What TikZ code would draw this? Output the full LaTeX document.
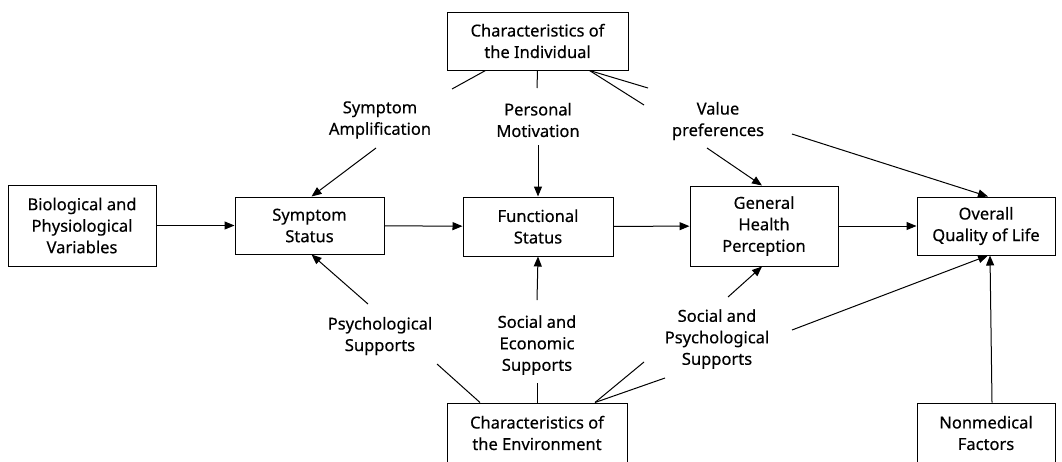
\documentclass[tikz,border=0pt]{standalone}
\usepackage{fontspec}
\setmainfont{Noto Sans}[FakeBold=0.4]
\usetikzlibrary{arrows.meta}
\begin{document}
\begin{tikzpicture}[x=1pt,y=-1pt,
  every node/.style={font=\fontsize{16.5}{21.5}\selectfont, align=center, inner sep=0pt},
  box/.style={draw, line width=1pt, rectangle},
  lbl/.style={},
  link/.style={line width=1pt},
  arr/.style={line width=1pt, -{Triangle[length=10pt,width=8pt]}}]
\useasboundingbox (0,0) rectangle (1062,461);
\fill[white] (0,0) rectangle (1062,461);
\begin{scope}
\clip (0,0) rectangle (1062,461);
% main row of boxes
\node[box, minimum width=148pt, minimum height=81pt] (bio) at (82,225.5) {Biological and\\Physiological\\Variables};
\node[box, minimum width=149pt, minimum height=57pt] (sym) at (309.5,225.5) {Symptom\\Status};
\node[box, minimum width=150pt, minimum height=59pt] (fun) at (538,226.5) {Functional\\Status};
\node[box, minimum width=148pt, minimum height=80pt] (gen) at (764,226) {General\\Health\\Perception};
\node[box, minimum width=138pt, minimum height=58pt] (ovr) at (986,226) {Overall\\Quality of Life};
% individual and environment
\node[box, minimum width=181pt, minimum height=58pt] (ind) at (537.5,41) {Characteristics of\\the Individual};
\node[box, minimum width=180pt, minimum height=60pt] (env) at (537,433) {Characteristics of\\the Environment};
\node[box, minimum width=138pt, minimum height=60pt] (non) at (986,433) {Nonmedical\\Factors};
% pathway labels
\node[lbl] (amp) at (380,120) {Symptom\\Amplification};
\node[lbl] (mot) at (538,120) {Personal\\Motivation};
\node[lbl] (val) at (718,121) {Value\\preferences};
\node[lbl] (psy) at (380,336) {Psychological\\Supports};
\node[lbl] (soe) at (537,345) {Social and\\Economic\\Supports};
\node[lbl] (sps) at (717,339) {Social and\\Psychological\\Supports};
% free ends near the labels
\coordinate (a1) at (376,148);
\coordinate (i1) at (452,89);
\coordinate (i2) at (537,88);
\coordinate (i3) at (648,88);
\coordinate (i4) at (644,105);
\coordinate (m1) at (538,145);
\coordinate (v1) at (707,148);
\coordinate (v2) at (792,134);
\coordinate (p1) at (368,304);
\coordinate (p2) at (437,364);
\coordinate (s1) at (537,300);
\coordinate (s2) at (537,383);
\coordinate (q1) at (644,362);
\coordinate (q2) at (665,378);
\coordinate (q3) at (728,297);
\coordinate (q4) at (792,330);
% main chain
\draw[arr] (bio) -- (sym);
\draw[arr] (sym) -- (fun);
\draw[arr] (fun) -- (gen);
\draw[arr] (gen) -- (ovr);
% characteristics of the individual
\draw[link] ([xshift=-52pt]ind.south) -- (i1);
\draw[link] (ind.south) -- (i2);
\draw[link] ([xshift=52pt]ind.south) -- (i3);
\draw[link] ([xshift=52pt]ind.south) -- (i4);
\draw[arr] (a1) -- ([xshift=2pt]sym.north);
\draw[arr] (m1) -- (fun.north);
\draw[arr] (v1) -- ([xshift=-2pt]gen.north);
\draw[arr] (v2) -- ([xshift=2pt]ovr.north);
% characteristics of the environment
\draw[arr] (p1) -- ([xshift=2pt]sym.south);
\draw[link] (p2) -- ([xshift=-57pt]env.north);
\draw[arr] (s1) -- (fun.south);
\draw[link] (s2) -- (env.north);
\draw[link] ([xshift=58pt]env.north) -- (q1);
\draw[link] ([xshift=58pt]env.north) -- (q2);
\draw[arr] (q3) -- ([xshift=-2pt]gen.south);
\draw[arr] (q4) -- ([xshift=2pt]ovr.south);
\draw[arr] ([xshift=6pt]non.north) -- ([xshift=4pt]ovr.south);
\end{scope}
\end{tikzpicture}
\end{document}
